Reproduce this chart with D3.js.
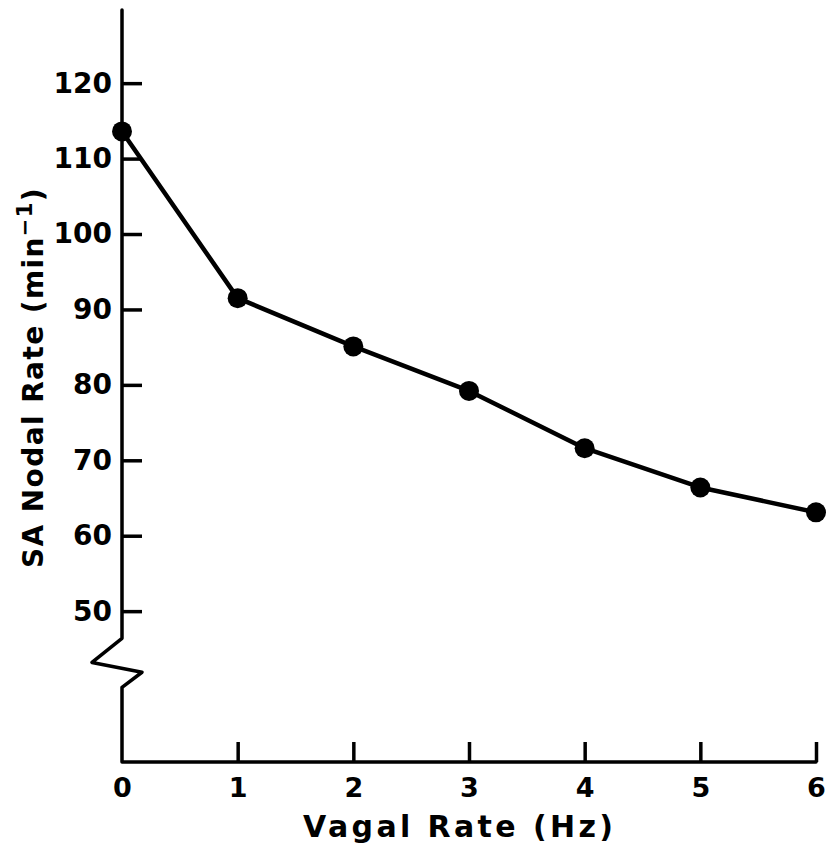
<!DOCTYPE html>
<html>
<head>
<meta charset="utf-8">
<script src="https://cdn.jsdelivr.net/npm/d3@7"></script>
<style>
  html, body { margin: 0; padding: 0; background: #fff; }
  svg { display: block; }
  text { font-family: "DejaVu Sans", sans-serif; font-weight: bold; fill: #000; }
</style>
</head>
<body>
<div id="chart"></div>
<script>
// Vagal stimulation frequency (Hz) and the resulting SA nodal rate (beats/min)
const vagalRate = [0, 1, 2, 3, 4, 5, 6];
const nodalRate = [113.6, 91.5, 85.1, 79.2, 71.6, 66.4, 63.1];
const xTickValues = [0, 1, 2, 3, 4, 5, 6];
const yTickValues = [50, 60, 70, 80, 90, 100, 110, 120];

const W = 829, H = 847;
const svg = d3.select("#chart").append("svg")
  .attr("width", W).attr("height", H);

const x = d3.scaleLinear().domain([0, 6]).range([122, 816]);
const y = d3.scaleLinear().domain([30, 129.7]).range([762, 10]);

const x0 = x(0), yBase = y.range()[0];

// Axis lines with a broken segment below 50
const axisPath = d3.path();
axisPath.moveTo(x0, y.range()[1]);
axisPath.lineTo(x0, y(46.4));
axisPath.lineTo(x0 - 30, y(43.2));
axisPath.lineTo(x0 + 20, y(41.9));
axisPath.lineTo(x0, y(39.9));
axisPath.lineTo(x0, yBase);
axisPath.lineTo(x(6), yBase);
svg.append("path")
  .attr("d", axisPath.toString())
  .attr("fill", "none").attr("stroke", "#000")
  .attr("stroke-width", 3.5).attr("stroke-linejoin", "round").attr("stroke-linecap", "round");

// Y axis: ticks point into the plot, labels on the left
const yAxis = svg.append("g")
  .attr("transform", `translate(${x0},0)`)
  .call(d3.axisLeft(y).tickValues(yTickValues).tickSize(-20).tickPadding(10).tickFormat(d3.format("d")));
yAxis.select(".domain").remove();
yAxis.selectAll(".tick line").attr("stroke", "#000").attr("stroke-width", 3.5);
yAxis.selectAll(".tick text").style("font-size", "28px");

// X axis: ticks point upward
const xAxis = svg.append("g")
  .attr("transform", `translate(0,${yBase})`)
  .call(d3.axisBottom(x).tickValues(xTickValues).tickSize(-20).tickPadding(16).tickFormat(d3.format("d")));
xAxis.select(".domain").remove();
xAxis.selectAll(".tick line").attr("stroke", "#000").attr("stroke-width", 3.5)
  .filter(d => d === 0).remove();
xAxis.selectAll(".tick text").style("font-size", "27px");

// Axis titles
svg.append("text")
  .attr("x", 303).attr("y", 837)
  .attr("textLength", 310).attr("lengthAdjust", "spacing")
  .style("font-size", "30px")
  .text("Vagal Rate (Hz)");

const yt = svg.append("text")
  .attr("transform", "translate(43,568) rotate(-90)")
  .attr("x", 0).attr("y", 0)
  .style("font-size", "28px")
  .style("letter-spacing", "1.4px");
yt.append("tspan").text("SA Nodal Rate (min");
yt.append("tspan").attr("dy", -11).style("font-size", "21px").text("−1");
yt.append("tspan").attr("dy", 11).text(")");

// Data line and markers
const line = d3.line().x((d, i) => x(vagalRate[i])).y(d => y(d));
svg.append("path")
  .datum(nodalRate)
  .attr("d", line)
  .attr("fill", "none").attr("stroke", "#000")
  .attr("stroke-width", 4.5).attr("stroke-linejoin", "round");

svg.selectAll("circle.pt")
  .data(nodalRate)
  .join("circle")
  .attr("class", "pt")
  .attr("cx", (d, i) => x(vagalRate[i]))
  .attr("cy", d => y(d))
  .attr("r", 10)
  .attr("fill", "#000");
</script>
</body>
</html>
